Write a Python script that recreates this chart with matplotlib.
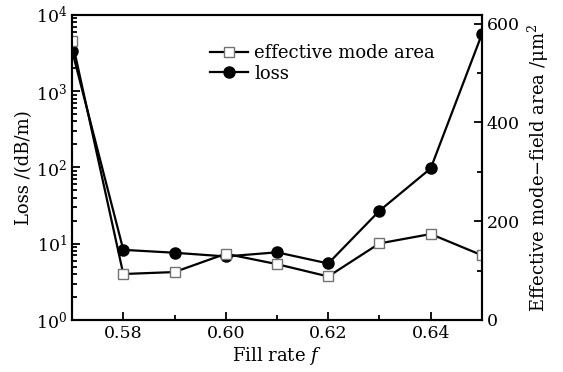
import numpy as np
import matplotlib
matplotlib.use('Agg')
import matplotlib.pyplot as plt
from matplotlib.ticker import MultipleLocator, LogLocator, NullFormatter

plt.rcParams['font.family'] = 'DejaVu Serif'
plt.rcParams['mathtext.fontset'] = 'dejavuserif'
plt.rcParams['font.size'] = 12

# fill rate and the two measured quantities
fill_rate = [0.57, 0.58, 0.59, 0.60, 0.61, 0.62, 0.63, 0.64, 0.65]
loss = [3400, 8.3, 7.6, 6.8, 7.7, 5.5, 27, 97, 5600]           # dB/m
mode_area = [566, 93, 97, 134, 113, 88, 155, 174, 131]         # um^2

fig = plt.figure(figsize=(5.63, 3.72), dpi=100)
ax = fig.add_axes([0.128, 0.140, 0.728, 0.820])
ax2 = ax.twinx()

l2, = ax.plot(fill_rate, loss, '-o', color='black', lw=1.6,
              markersize=8, label='loss')
l1, = ax2.plot(fill_rate, mode_area, '-s', color='black', lw=1.6,
               markersize=6.5, markerfacecolor='white',
               markeredgecolor='0.45', markeredgewidth=1.0,
               label='effective mode area')

ax.set_yscale('log')
ax.set_ylim(1, 1e4)
ax.set_xlim(0.57, 0.65)
ax2.set_ylim(0, 618)

ax.set_xticks([0.58, 0.60, 0.62, 0.64])
ax.set_xticklabels(['0.58', '0.60', '0.62', '0.64'])
ax.xaxis.set_minor_locator(MultipleLocator(0.01))
ax.yaxis.set_major_locator(LogLocator(base=10, numticks=10))
ax.yaxis.set_minor_locator(LogLocator(base=10, subs=np.arange(2, 10), numticks=10))
ax.yaxis.set_minor_formatter(NullFormatter())
ax2.yaxis.set_major_locator(MultipleLocator(200))
ax2.yaxis.set_minor_locator(MultipleLocator(100))

for a in (ax, ax2):
    a.tick_params(which='both', direction='in', width=1.3, labelsize=12.5)
    a.tick_params(which='major', length=6)
    a.tick_params(which='minor', length=3.5)
    for s in a.spines.values():
        s.set_linewidth(1.5)
ax.tick_params(axis='y', which='both', right=False)
ax.tick_params(axis='x', which='both', top=False)

ax.set_xlabel('Fill rate $f$', fontsize=13, labelpad=2)
ax.set_ylabel('Loss /(dB/m)', fontsize=13, labelpad=2)
ax2.set_ylabel('Effective mode\u2212field area /\u03bcm$^2$', fontsize=13, labelpad=4)

ax2.legend(handles=[l1, l2], loc='upper left', bbox_to_anchor=(0.337, 0.905),
           frameon=False, fontsize=13, handlelength=2.1, handletextpad=0.35,
           labelspacing=0.15, borderaxespad=0, borderpad=0)

fig.savefig('out.png', dpi=100)
